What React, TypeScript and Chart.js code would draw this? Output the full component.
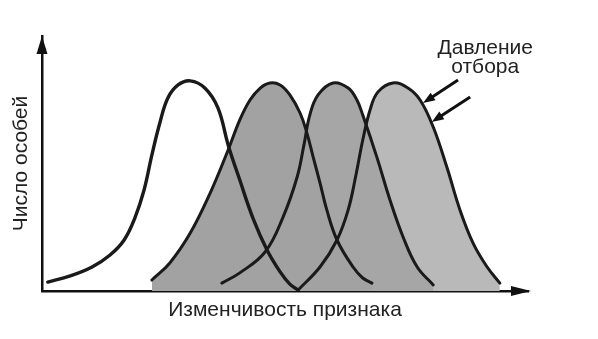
import React, { useEffect, useRef } from "react";
import { Chart, registerables } from "chart.js";

Chart.register(...registerables);

// ---- Text ----
const xAxisTitle = "Изменчивость признака";
const yAxisTitle = "Число особей";
const pressureLabel = ["Давление", "отбора"];

// ---- Data (arbitrary units: trait value 0–100, number of individuals 0–100) ----
// Curve 1: initial population (unfilled)
const curve1X = [1.2, 5.8, 10.3, 14.0, 16.9, 19.1, 21.0, 22.6, 24.3, 25.9, 28.0, 30.5, 33.5, 36.2, 38.3, 40.7, 43.4, 46.3, 49.0, 51.0, 52.7];
const curve1Y = [3.5, 5.9, 9.4, 14.1, 20.0, 28.6, 39.6, 53.3, 66.3, 75.7, 80.8, 82.4, 79.6, 71.8, 57.3, 43.5, 28.6, 16.1, 7.5, 2.7, 0.4];
// Curve 2
const curve2X = [22.6, 26.3, 30.5, 34.6, 38.3, 40.7, 42.8, 44.9, 46.9, 49.0, 51.0, 53.1, 54.5, 55.8, 57.2, 58.6, 60.7, 64.0, 66.0, 67.9];
const curve2Y = [4.3, 11.0, 22.7, 38.4, 55.3, 67.1, 74.9, 79.6, 81.6, 80.8, 76.9, 69.8, 62.0, 52.5, 42.4, 31.8, 20.0, 9.4, 5.1, 3.1];
// Curve 3
const curve3X = [37.0, 40.7, 45.9, 49.6, 52.5, 53.9, 55.1, 56.8, 59.9, 63.0, 64.8, 66.0, 68.9, 71.6, 74.3, 77.2, 80.5];
const curve3Y = [3.1, 7.1, 15.3, 29.0, 44.7, 57.3, 69.0, 76.9, 81.6, 79.6, 74.9, 69.0, 52.5, 35.7, 21.2, 9.4, 2.4];
// Curve 4
const curve4X = [52.7, 57.2, 60.7, 63.0, 64.6, 66.0, 67.5, 69.1, 72.2, 75.3, 77.8, 80.5, 83.3, 86.0, 88.7, 91.6, 94.2];
const curve4Y = [0.4, 9.4, 20.0, 31.8, 45.5, 59.2, 71.0, 78.0, 81.6, 79.6, 74.9, 64.3, 48.6, 31.8, 18.8, 9.4, 3.1];

// Annotation ("selection pressure" arrows), in data units
const arrowTailX = [85.6, 88.1];
const arrowTailY = [82.7, 76.1];
const arrowTipX = [78.4, 80.2];
const arrowTipY = [73.7, 66.3];
const labelX = 91.2;
const labelBaselineY = [93.1, 85.5];

const FONT = "'Liberation Sans', Arial, Helvetica, sans-serif";
const INK = "#1a1a1a";
const TEXT = "#222222";

const pairs = (xs: number[], ys: number[]) => xs.map((x, i) => ({ x, y: ys[i] }));

function drawArrow(ctx: CanvasRenderingContext2D, x1: number, y1: number, x2: number, y2: number, len: number, half: number, lw: number) {
  const ang = Math.atan2(y2 - y1, x2 - x1);
  const bx = x2 - Math.cos(ang) * len;
  const by = y2 - Math.sin(ang) * len;
  ctx.lineWidth = lw;
  ctx.beginPath();
  ctx.moveTo(x1, y1);
  ctx.lineTo(bx + Math.cos(ang) * 1, by + Math.sin(ang) * 1);
  ctx.stroke();
  ctx.beginPath();
  ctx.moveTo(x2, y2);
  ctx.lineTo(bx - Math.sin(ang) * half, by + Math.cos(ang) * half);
  ctx.lineTo(bx + Math.sin(ang) * half, by - Math.cos(ang) * half);
  ctx.closePath();
  ctx.fill();
}

const decorPlugin = {
  id: "decor",
  afterDraw(chart: any) {
    const { ctx, chartArea: a, scales } = chart;
    const xs = scales.x;
    const ys = scales.y;
    ctx.save();
    ctx.fillStyle = "#111111";
    ctx.strokeStyle = "#111111";
    // y-axis arrowhead
    ctx.beginPath();
    ctx.moveTo(a.left, a.top);
    ctx.lineTo(a.left - 5.5, a.top + 18);
    ctx.lineTo(a.left + 5.5, a.top + 18);
    ctx.closePath();
    ctx.fill();
    // x-axis arrowhead
    ctx.beginPath();
    ctx.moveTo(a.right + 3, a.bottom);
    ctx.lineTo(a.right - 17, a.bottom - 5);
    ctx.lineTo(a.right - 17, a.bottom + 5);
    ctx.closePath();
    ctx.fill();
    // selection pressure arrows
    for (let i = 0; i < arrowTailX.length; i++) {
      drawArrow(
        ctx,
        xs.getPixelForValue(arrowTailX[i]),
        ys.getPixelForValue(arrowTailY[i]),
        xs.getPixelForValue(arrowTipX[i]),
        ys.getPixelForValue(arrowTipY[i]),
        12,
        4.5,
        3
      );
    }
    // label
    ctx.fillStyle = TEXT;
    ctx.font = `21px ${FONT}`;
    ctx.textAlign = "center";
    ctx.textBaseline = "alphabetic";
    pressureLabel.forEach((line, i) => {
      ctx.fillText(line, xs.getPixelForValue(labelX), ys.getPixelForValue(labelBaselineY[i]));
    });
    ctx.restore();
  },
};

export default function App() {
  const canvasRef = useRef<HTMLCanvasElement | null>(null);

  useEffect(() => {
    document.body.style.margin = "0";
    const canvas = canvasRef.current;
    if (!canvas) return;
    const lineBase = {
      borderColor: INK,
      borderWidth: 3,
      pointRadius: 0,
      tension: 0.4,
      borderCapStyle: "round" as const,
    };
    const chart = new Chart(canvas, {
      type: "line",
      data: {
        datasets: [
          { ...lineBase, label: "1", data: pairs(curve1X, curve1Y), fill: false, borderWidth: 3.4 },
          { ...lineBase, label: "2", data: pairs(curve2X, curve2Y), fill: "origin", backgroundColor: "#a2a2a2" },
          { ...lineBase, label: "3", data: pairs(curve3X, curve3Y), fill: "origin", backgroundColor: "#a6a6a6" },
          { ...lineBase, label: "4", data: pairs(curve4X, curve4Y), fill: "origin", backgroundColor: "#b9b9b9" },
        ],
      },
      options: {
        animation: false,
        responsive: false,
        events: [],
        layout: { padding: { left: 8.2, top: 36, right: 70, bottom: 15.8 } },
        plugins: {
          legend: { display: false },
          tooltip: { enabled: false },
          filler: { drawTime: "beforeDatasetsDraw" },
        },
        scales: {
          x: {
            type: "linear",
            min: 0,
            max: 100,
            ticks: { display: false },
            grid: { display: false, drawTicks: false },
            border: { display: true, color: "#111111", width: 2.5 },
            title: {
              display: true,
              text: xAxisTitle,
              color: TEXT,
              font: { family: FONT, size: 21, lineHeight: 1.2 },
              padding: { top: 7, bottom: 0 },
            },
          },
          y: {
            type: "linear",
            min: 0,
            max: 100,
            ticks: { display: false },
            grid: { display: false, drawTicks: false },
            border: { display: true, color: "#111111", width: 2.5 },
            title: {
              display: true,
              text: yAxisTitle,
              color: TEXT,
              font: { family: FONT, size: 21, lineHeight: 1.2 },
              padding: { top: 0, bottom: 8.6 },
            },
          },
        },
      },
      plugins: [decorPlugin],
    });
    return () => chart.destroy();
  }, []);

  return (
    <div style={{ position: "absolute", left: 0, top: 0, width: 598, height: 339, background: "#ffffff" }}>
      <canvas ref={canvasRef} width={598} height={339} />
    </div>
  );
}
